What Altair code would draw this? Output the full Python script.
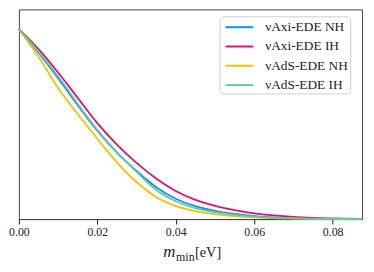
import altair as alt
import pandas as pd

# x grid (m_min in eV)
m_min = [0.0, 0.005, 0.01, 0.015, 0.02, 0.025, 0.03, 0.035, 0.04, 0.045,
         0.05, 0.055, 0.06, 0.065, 0.07, 0.075, 0.08, 0.0875]

series_names = ["νAxi-EDE NH", "νAxi-EDE IH", "νAdS-EDE NH", "νAdS-EDE IH"]
series_colors = ["#0c8ef5", "#e0106e", "#f7c100", "#62c9a5"]

axi_nh = [1.0, 0.876, 0.742, 0.600, 0.466, 0.350, 0.253, 0.168, 0.107, 0.068,
          0.043, 0.027, 0.016, 0.009, 0.005, 0.003, 0.001, 0.0005]
axi_ih = [1.0, 0.895, 0.772, 0.638, 0.505, 0.392, 0.296, 0.214, 0.148, 0.101,
          0.070, 0.047, 0.030, 0.019, 0.011, 0.006, 0.003, 0.001]
ads_nh = [1.0, 0.855, 0.690, 0.553, 0.423, 0.299, 0.195, 0.116, 0.068, 0.042,
          0.026, 0.016, 0.009, 0.005, 0.003, 0.001, 0.0005, 0.0002]
ads_ih = [1.0, 0.882, 0.752, 0.607, 0.470, 0.352, 0.248, 0.153, 0.094, 0.058,
          0.036, 0.022, 0.013, 0.007, 0.004, 0.002, 0.001, 0.0004]

x_ticks = [0.0, 0.02, 0.04, 0.06, 0.08]
title_parts = ["m", "min", "[eV]"]

rows = []
for name, vals in zip(series_names, [axi_nh, axi_ih, ads_nh, ads_ih]):
    for xv, yv in zip(m_min, vals):
        rows.append({"m": xv, "P": yv, "series": name})
df = pd.DataFrame(rows)

W, H = 347, 212

lines = alt.Chart(df).mark_line(strokeWidth=1.8, interpolate="monotone").encode(
    x=alt.X("m:Q",
            scale=alt.Scale(domain=[0, 0.0875], nice=False, zero=False),
            axis=alt.Axis(values=x_ticks, format=".2f", title=None, grid=False,
                          labelFont="Liberation Serif", labelFontSize=12,
                          labelColor="#222", tickColor="#222", tickSize=5,
                          labelPadding=3, domainColor="#444", labelFlush=False)),
    y=alt.Y("P:Q", scale=alt.Scale(domain=[0, 1.104], nice=False), axis=None),
    color=alt.Color("series:N",
                    scale=alt.Scale(domain=series_names, range=series_colors),
                    sort=series_names,
                    legend=alt.Legend(title=None, orient="none", legendX=203, legendY=7,
                                      symbolType="M-1.75,0H1.75", symbolSize=256,
                                      symbolStrokeWidth=2, symbolOffset=9,
                                      labelFont="Liberation Serif",
                                      labelFontSize=13.5, labelColor="#222",
                                      padding=2, rowPadding=3.5, labelOffset=17,
                                      cornerRadius=4, strokeColor="#cccccc",
                                      fillColor="white")),
)

t_m = alt.Chart(pd.DataFrame({"t": [title_parts[0]]})).mark_text(
    font="Liberation Serif", fontSize=17, fontStyle="italic", align="left",
    baseline="alphabetic", color="#222").encode(
    x=alt.value(146), y=alt.value(250), text="t:N")
t_sub = alt.Chart(pd.DataFrame({"t": [title_parts[1]]})).mark_text(
    font="Liberation Serif", fontSize=12, align="left",
    baseline="alphabetic", color="#222").encode(
    x=alt.value(159), y=alt.value(254), text="t:N")
t_ev = alt.Chart(pd.DataFrame({"t": [title_parts[2]]})).mark_text(
    font="Liberation Serif", fontSize=14.5, align="left",
    baseline="alphabetic", color="#222").encode(
    x=alt.value(178), y=alt.value(250), text="t:N")

chart = alt.layer(lines, t_m, t_sub, t_ev).properties(
    width=W, height=H,
    padding={"left": 0, "top": 0, "right": 0, "bottom": 0},
).configure_view(stroke="#444", strokeWidth=1)

chart.save("out.html", embed_options={"renderer": "svg", "actions": False})
